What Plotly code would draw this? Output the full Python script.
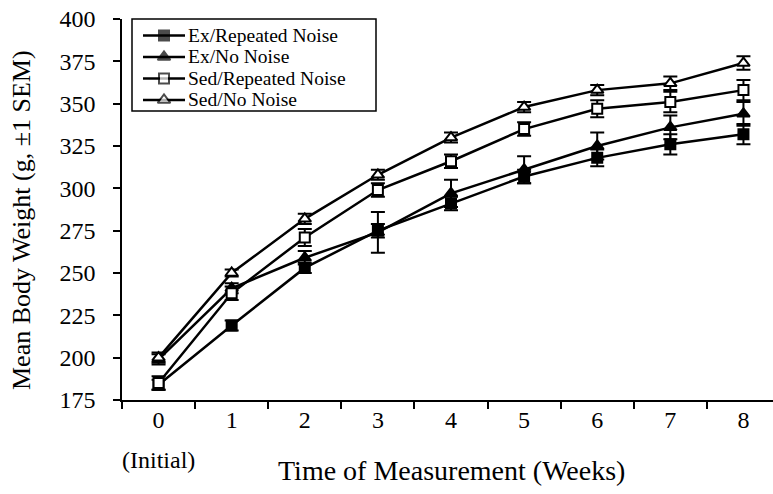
import plotly.graph_objects as go

weeks = ["0", "1", "2", "3", "4", "5", "6", "7", "8"]
y_ticks = [175, 200, 225, 250, 275, 300, 325, 350, 375, 400]

ex_rep = [184, 219, 253, 275, 291, 307, 318, 326, 332]
ex_rep_err = [3, 3, 3, 4, 4, 4, 5, 6, 6]
ex_no = [199, 241, 259, 274, 297, 311, 325, 336, 344]
ex_no_err = [3, 3, 4, 12, 8, 8, 8, 7, 7]
sed_rep = [185, 238, 271, 299, 316, 335, 347, 351, 358]
sed_rep_err = [4, 4, 5, 4, 4, 4, 5, 6, 6]
sed_no = [200, 250, 282, 308, 330, 348, 358, 362, 374]
sed_no_err = [3, 2, 3, 3, 3, 3, 3, 4, 4]

series_names = ["Ex/Repeated Noise", "Ex/No Noise", "Sed/Repeated Noise", "Sed/No Noise"]
series_vals = [ex_rep, ex_no, sed_rep, sed_no]
series_errs = [ex_rep_err, ex_no_err, sed_rep_err, sed_no_err]
series_syms = ["square", "triangle-up", "square", "triangle-up"]
series_fill = ["black", "black", "white", "white"]

FONT = "Liberation Serif, Times New Roman, serif"
W, H = 773, 494
# plot area in window pixels: x 122..780 (clipped at 773), y 19..400
PL, PT, PB = 122, 19, 400
L, T, R = PL, PT, 0
B = H - PB
PW, PH = W - L - R, H - T - B


def px_x(px):
    return (px - PL) / PW


def px_y(py):
    return (PB - py) / PH


fig = go.Figure()
for name, vals, errs, sym, fill in zip(series_names, series_vals, series_errs,
                                       series_syms, series_fill):
    fig.add_trace(go.Scatter(
        x=weeks, y=vals, name=name, mode="lines+markers", showlegend=False,
        line=dict(color="black", width=2.5),
        marker=dict(symbol=sym, size=10 if sym == "square" else 11,
                    color=fill, line=dict(color="black", width=2)),
        error_y=dict(type="data", array=errs, visible=True,
                     color="black", thickness=2, width=7),
    ))

# compact legend box
shapes = [dict(type="rect", xref="paper", yref="paper",
               x0=px_x(132), x1=px_x(376), y0=px_y(111), y1=px_y(19),
               line=dict(color="black", width=1.5), fillcolor="white",
               layer="below")]
annotations = []
row_y = [35.5 + 21.5 * i for i in range(len(series_names))]
for name, ry in zip(series_names, row_y):
    shapes.append(dict(type="line", xref="paper", yref="paper",
                       x0=px_x(143), x1=px_x(185), y0=px_y(ry), y1=px_y(ry),
                       line=dict(color="black", width=2.5), layer="below"))
    annotations.append(dict(text=name, xref="paper", yref="paper",
                            x=px_x(186), y=px_y(ry), xanchor="left",
                            yanchor="middle", showarrow=False,
                            font=dict(family=FONT, size=19.5, color="black")))
fig.add_trace(go.Scatter(
    x=[px_x(164)] * len(series_names), y=[px_y(r) for r in row_y],
    xaxis="x2", yaxis="y2", mode="markers", showlegend=False,
    hoverinfo="skip",
    marker=dict(symbol=series_syms, color=series_fill,
                size=[10 if s == "square" else 11 for s in series_syms],
                line=dict(color="black", width=2)),
))

annotations += [
    dict(text="(Initial)", xref="x", yref="paper", x="0", y=px_y(460),
         xanchor="center", yanchor="middle", showarrow=False,
         font=dict(family=FONT, size=24, color="black")),
    dict(text="Time of Measurement (Weeks)", xref="paper", yref="paper",
         x=px_x(451), y=px_y(470), xanchor="center", yanchor="middle",
         showarrow=False, font=dict(family=FONT, size=28, color="black")),
    dict(text="Mean Body Weight (g, \u00b11 SEM)", xref="paper", yref="paper",
         x=px_x(22), y=px_y(220), xanchor="center", yanchor="middle",
         textangle=-90, showarrow=False,
         font=dict(family=FONT, size=26, color="black")),
]

fig.update_layout(
    width=W, height=H,
    margin=dict(l=L, r=R, t=T, b=B, pad=0),
    paper_bgcolor="white", plot_bgcolor="white",
    font=dict(family=FONT, size=24, color="black"),
    showlegend=False,
    shapes=shapes, annotations=annotations,
    xaxis=dict(
        type="category", range=[-0.5, 8.5 - (780 - W) / 73.1],
        tickmode="array", tickvals=weeks, ticktext=weeks,
        tickson="boundaries", ticks="outside", ticklen=7, tickwidth=1.5,
        tickcolor="black", ticklabelstandoff=-3, ticklabeloverflow="allow",
        showline=True, linecolor="black", linewidth=1.5,
        showgrid=False, zeroline=False, automargin=False,
        tickfont=dict(family=FONT, size=24),
    ),
    yaxis=dict(
        range=[175, 400], tickmode="array", tickvals=y_ticks,
        ticks="outside", ticklen=7, tickwidth=1.5, tickcolor="black",
        ticklabelstandoff=13, ticklabeloverflow="allow",
        showline=True, linecolor="black", linewidth=1.5,
        showgrid=False, zeroline=False, automargin=False,
        tickfont=dict(family=FONT, size=24),
    ),
    xaxis2=dict(overlaying="x", range=[0, 1], visible=False, fixedrange=True),
    yaxis2=dict(overlaying="y", range=[0, 1], visible=False, fixedrange=True),
)

fig.write_html(
    "out.html",
    config={"displayModeBar": False},
    post_script="document.body.style.margin='0px';"
                "document.body.style.overflow='hidden';",
)
